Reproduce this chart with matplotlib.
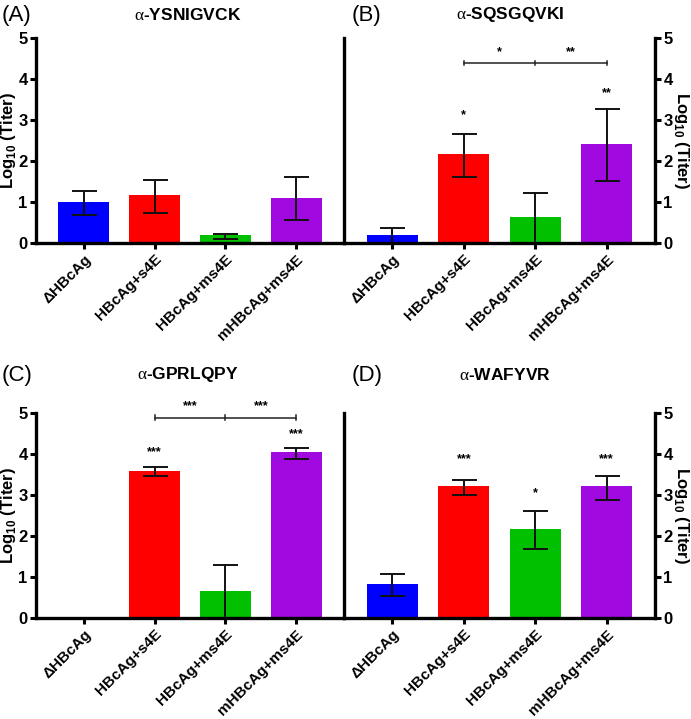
import matplotlib
matplotlib.use("Agg")
import matplotlib.pyplot as plt
import numpy as np

plt.rcParams['font.family'] = ['Liberation Sans', 'DejaVu Sans']
plt.rcParams['mathtext.fontset'] = 'custom'
plt.rcParams['mathtext.rm'] = 'Liberation Serif'
plt.rcParams['mathtext.bf'] = 'Liberation Sans:bold'

categories = ['ΔHBcAg', 'HBcAg+s4E', 'HBcAg+ms4E', 'mHBcAg+ms4E']
colors = ['#0000FF', '#FF0000', '#00C000', '#A00AE0']

# Panel A: α-YSNIGVCK
a_mean = [1.01, 1.17, 0.19, 1.09]
a_low = [0.69, 0.73, 0.10, 0.55]
a_high = [1.27, 1.54, 0.23, 1.60]
# Panel B: α-SQSGQVKI
b_mean = [0.20, 2.16, 0.63, 2.41]
b_low = [0.00, 1.60, 0.00, 1.52]
b_high = [0.36, 2.67, 1.21, 3.27]
# Panel C: α-GPRLQPY
c_mean = [0.00, 3.59, 0.67, 4.05]
c_low = [0.00, 3.46, 0.00, 3.89]
c_high = [0.00, 3.68, 1.30, 4.15]
# Panel D: α-WAFYVR
d_mean = [0.83, 3.21, 2.18, 3.21]
d_low = [0.53, 3.00, 1.69, 2.89]
d_high = [1.07, 3.37, 2.62, 3.46]

titles = ['YSNIGVCK', 'SQSGQVKI', 'GPRLQPY', 'WAFYVR']
panel_letters = ['(A)', '(B)', '(C)', '(D)']

# significance above bars: (bar index, text, y)
b_stars = [(1, '*', 2.96), (3, '**', 3.50)]
c_stars = [(1, '***', 3.90), (3, '***', 4.33)]
d_stars = [(1, '***', 3.72), (2, '*', 2.89), (3, '***', 3.72)]
# brackets: y, left label, right label
b_bracket = (4.39, '*', '**')
c_bracket = (4.89, '***', '***')

W, H = 691, 719
fig = plt.figure(figsize=(W / 100, H / 100), dpi=100)

def fx(px):
    return px / W

def fy(py):
    return 1 - py / H

def make_axes(left_px, right_px, top_px, bottom_px):
    ax = fig.add_axes([fx(left_px), fy(bottom_px), fx(right_px - left_px), fy(top_px) - fy(bottom_px)])
    ax.set_facecolor('none')
    return ax

axA = make_axes(36, 344, 38, 243)
axB = make_axes(344, 655, 38, 243)
axC = make_axes(36, 344, 413, 618)
axD = make_axes(344, 655, 413, 618)

x = np.arange(len(categories))

def draw(ax, mean, low, high, side):
    mean = np.array(mean); low = np.array(low); high = np.array(high)
    ax.bar(x, mean, width=0.72, color=colors, edgecolor='none', zorder=2)
    yerr = np.vstack([mean - low, high - mean])
    show = (high - low) > 0
    ax.errorbar(x[show], mean[show], yerr=yerr[:, show], fmt='none', ecolor='#111111',
                elinewidth=1.4, capsize=9, capthick=1.4, zorder=3)
    ax.set_xlim(-0.676, 3.676)
    ax.set_ylim(0, 5)
    ax.set_yticks([0, 1, 2, 3, 4, 5])
    ax.set_xticks(x)
    ax.spines['top'].set_visible(False)
    for sp in ['left', 'right', 'bottom']:
        ax.spines[sp].set_linewidth(2.4)
        ax.spines[sp].set_zorder(5)
    ax.tick_params(axis='both', direction='out', length=4.5, width=2.2)
    ax.tick_params(axis='y', labelsize=12, pad=1.5)
    ax.tick_params(axis='x', labelsize=11, pad=2)
    ax.set_xticklabels(categories, rotation=45, ha='right', va='top',
                       rotation_mode='anchor', fontsize=11, fontweight='bold')
    if side == 'left':
        ax.yaxis.set_ticks_position('left')
        ax.set_ylabel(r'Log$_{\mathbf{10}}$ (Titer)', fontsize=12, fontweight='bold', labelpad=0)
    else:
        ax.spines['left'].set_visible(False)
        ax.yaxis.set_ticks_position('right')
        ax.yaxis.set_label_position('right')
        ax.set_ylabel(r'Log$_{\mathbf{10}}$ (Titer)', fontsize=12, fontweight='bold',
                      rotation=-90, labelpad=13)
    for lab in ax.get_yticklabels():
        lab.set_fontweight('bold')

def stars(ax, items):
    for i, s, y in items:
        ax.text(x[i], y, s, ha='center', va='bottom', fontsize=9, fontweight='bold')

def bracket(ax, spec):
    y, l1, l2 = spec
    ax.plot([1, 3], [y, y], color='#222222', lw=1.1, clip_on=False, zorder=4)
    for xi in [1, 2, 3]:
        ax.plot([xi, xi], [y - 0.06, y + 0.06], color='#222222', lw=1.1, clip_on=False, zorder=4)
    ax.text(1.5, y + 0.12, l1, ha='center', va='bottom', fontsize=9, fontweight='bold')
    ax.text(2.5, y + 0.12, l2, ha='center', va='bottom', fontsize=9, fontweight='bold')

draw(axA, a_mean, a_low, a_high, 'left')
draw(axB, b_mean, b_low, b_high, 'right')
draw(axC, c_mean, c_low, c_high, 'left')
draw(axD, d_mean, d_low, d_high, 'right')

stars(axB, b_stars)
stars(axC, c_stars)
stars(axD, d_stars)
bracket(axB, b_bracket)
bracket(axC, c_bracket)

title_pos = [(188, 15), (510, 15), (188, 375), (505, 375)]
letter_pos = [(2, 15), (352, 15), (2, 375), (352, 375)]
for t, (tx, ty) in zip(titles, title_pos):
    fig.text(fx(tx), fy(ty), r'$\mathrm{\alpha}$-' + t, ha='center', va='center',
             fontsize=12.5, fontweight='bold')
for t, (lx, ly) in zip(panel_letters, letter_pos):
    fig.text(fx(lx), fy(ly), t, ha='left', va='center', fontsize=16)

fig.savefig('out.png', dpi=100, facecolor='white')
